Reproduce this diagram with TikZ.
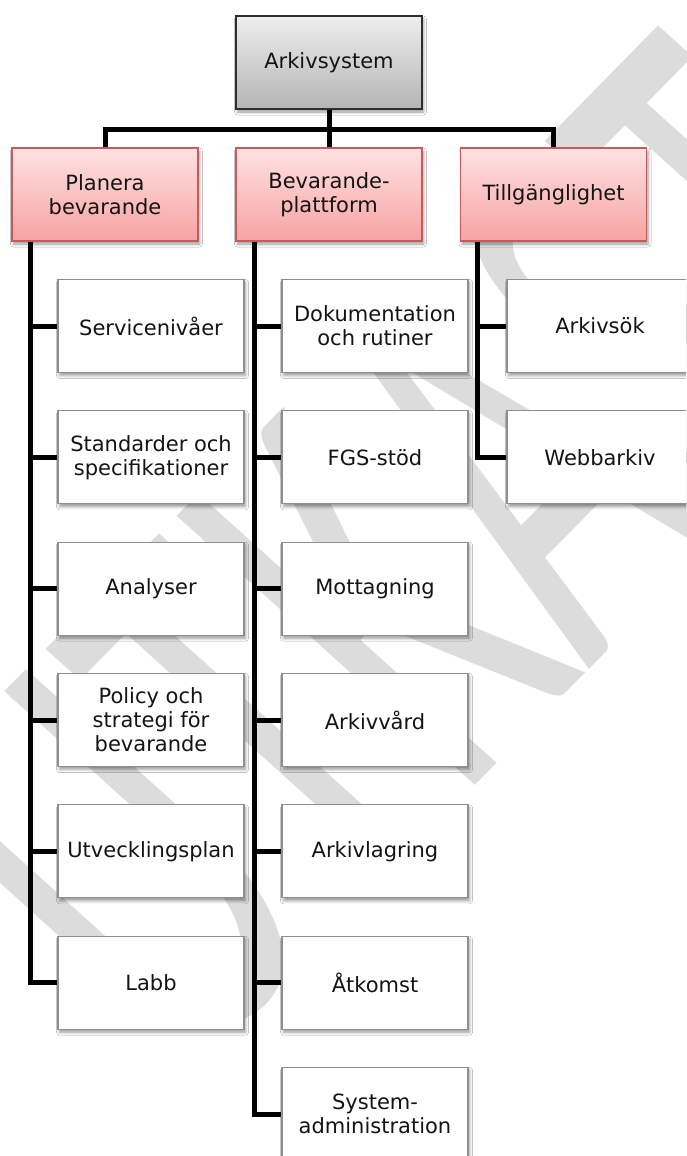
\documentclass[tikz,border=0pt]{standalone}
\usepackage{fontspec}
\setmainfont{DejaVu Sans}
\newfontfamily\wmfont{Carlito}
\usetikzlibrary{shadows.blur}
\definecolor{rootTop}{HTML}{EEEEEE}
\definecolor{rootBot}{HTML}{B4B4B4}
\definecolor{rootLine}{HTML}{2E2E2E}
\definecolor{redTop}{HTML}{FFE2E2}
\definecolor{redBot}{HTML}{F7A2A2}
\definecolor{redLine}{HTML}{C65B5B}
\definecolor{leafLine}{HTML}{8F8F8F}
\definecolor{wmGrey}{HTML}{DCDCDC}
\begin{document}
\begin{tikzpicture}[x=1pt,y=-1pt,
  box/.style={minimum width=186pt, minimum height=93pt, inner sep=2pt, align=center,
    font=\fontsize{21}{24}\selectfont, text=black!92, line width=1.3pt,
    blur shadow={shadow xshift=1.5pt, shadow yshift=-3pt, shadow blur radius=3pt, shadow opacity=40}},
  rootbox/.style={box, draw=rootLine, top color=rootTop, bottom color=rootBot},
  headbox/.style={box, draw=redLine, top color=redTop, bottom color=redBot},
  leafbox/.style={box, draw=leafLine, fill=white},
  conn/.style={line width=5pt, black},
  watermark/.style={font=\wmfont\fontsize{100}{100}\selectfont, text=wmGrey, inner sep=0pt}
]
\useasboundingbox (0,0) rectangle (686,1156);
\clip (0,0) rectangle (686,1156);
\fill[white] (0,0) rectangle (686,1156);

% watermark (stretched diagonal text)
\node[watermark, transform shape, cm={2.446,2.492,-4.649,4.195,(0,0)}, anchor=base west] (wm) at (184.3,1082.2) {UTKAST};

% top levels
\node[rootbox] (root) at (329,62.5) {Arkivsystem};
\node[headbox] (plan) at (105,194.5) {Planera\\bevarande};
\node[headbox] (bev) at (329,194.5) {Bevarande-\\plattform};
\node[headbox] (till) at (553.5,194.5) {Tillgänglighet};

% column 1
\node[leafbox] (p1) at (151,326) {Servicenivåer};
\node[leafbox] (p2) at (151,457.3) {Standarder och\\specifikationer};
\node[leafbox] (p3) at (151,588.7) {Analyser};
\node[leafbox] (p4) at (151,720) {Policy och\\strategi för\\bevarande};
\node[leafbox] (p5) at (151,851.3) {Utvecklingsplan};
\node[leafbox] (p6) at (151,982.7) {Labb};

% column 2
\node[leafbox] (b1) at (375,326) {Dokumentation\\och rutiner};
\node[leafbox] (b2) at (375,457.3) {FGS-stöd};
\node[leafbox] (b3) at (375,588.7) {Mottagning};
\node[leafbox] (b4) at (375,720) {Arkivvård};
\node[leafbox] (b5) at (375,851.3) {Arkivlagring};
\node[leafbox] (b6) at (375,982.7) {Åtkomst};
\node[leafbox] (b7) at (375,1114) {System-\\administration};

% column 3
\node[leafbox] (t1) at (600,326) {Arkivsök};
\node[leafbox] (t2) at (600,457.3) {Webbarkiv};

% connectors top
\coordinate (bar) at (329,129);
\draw[conn] (plan.north) |- (bar) -| (till.north);
\draw[conn] (root.south) -- (bev.north);

% spines
\path (plan.south west) ++(19,0) coordinate (ps);
\path (bev.south west) ++(19,0) coordinate (bs);
\path (till.south west) ++(18,0) coordinate (ts);

\draw[conn] (ps) |- (p6.west);
\foreach \n in {p1,p2,p3,p4,p5} \draw[conn] (ps |- \n.west) -- (\n.west);
\draw[conn] (bs) |- (b7.west);
\foreach \n in {b1,b2,b3,b4,b5,b6} \draw[conn] (bs |- \n.west) -- (\n.west);
\draw[conn] (ts) |- (t2.west);
\draw[conn] (ts |- t1.west) -- (t1.west);
\end{tikzpicture}
\end{document}
